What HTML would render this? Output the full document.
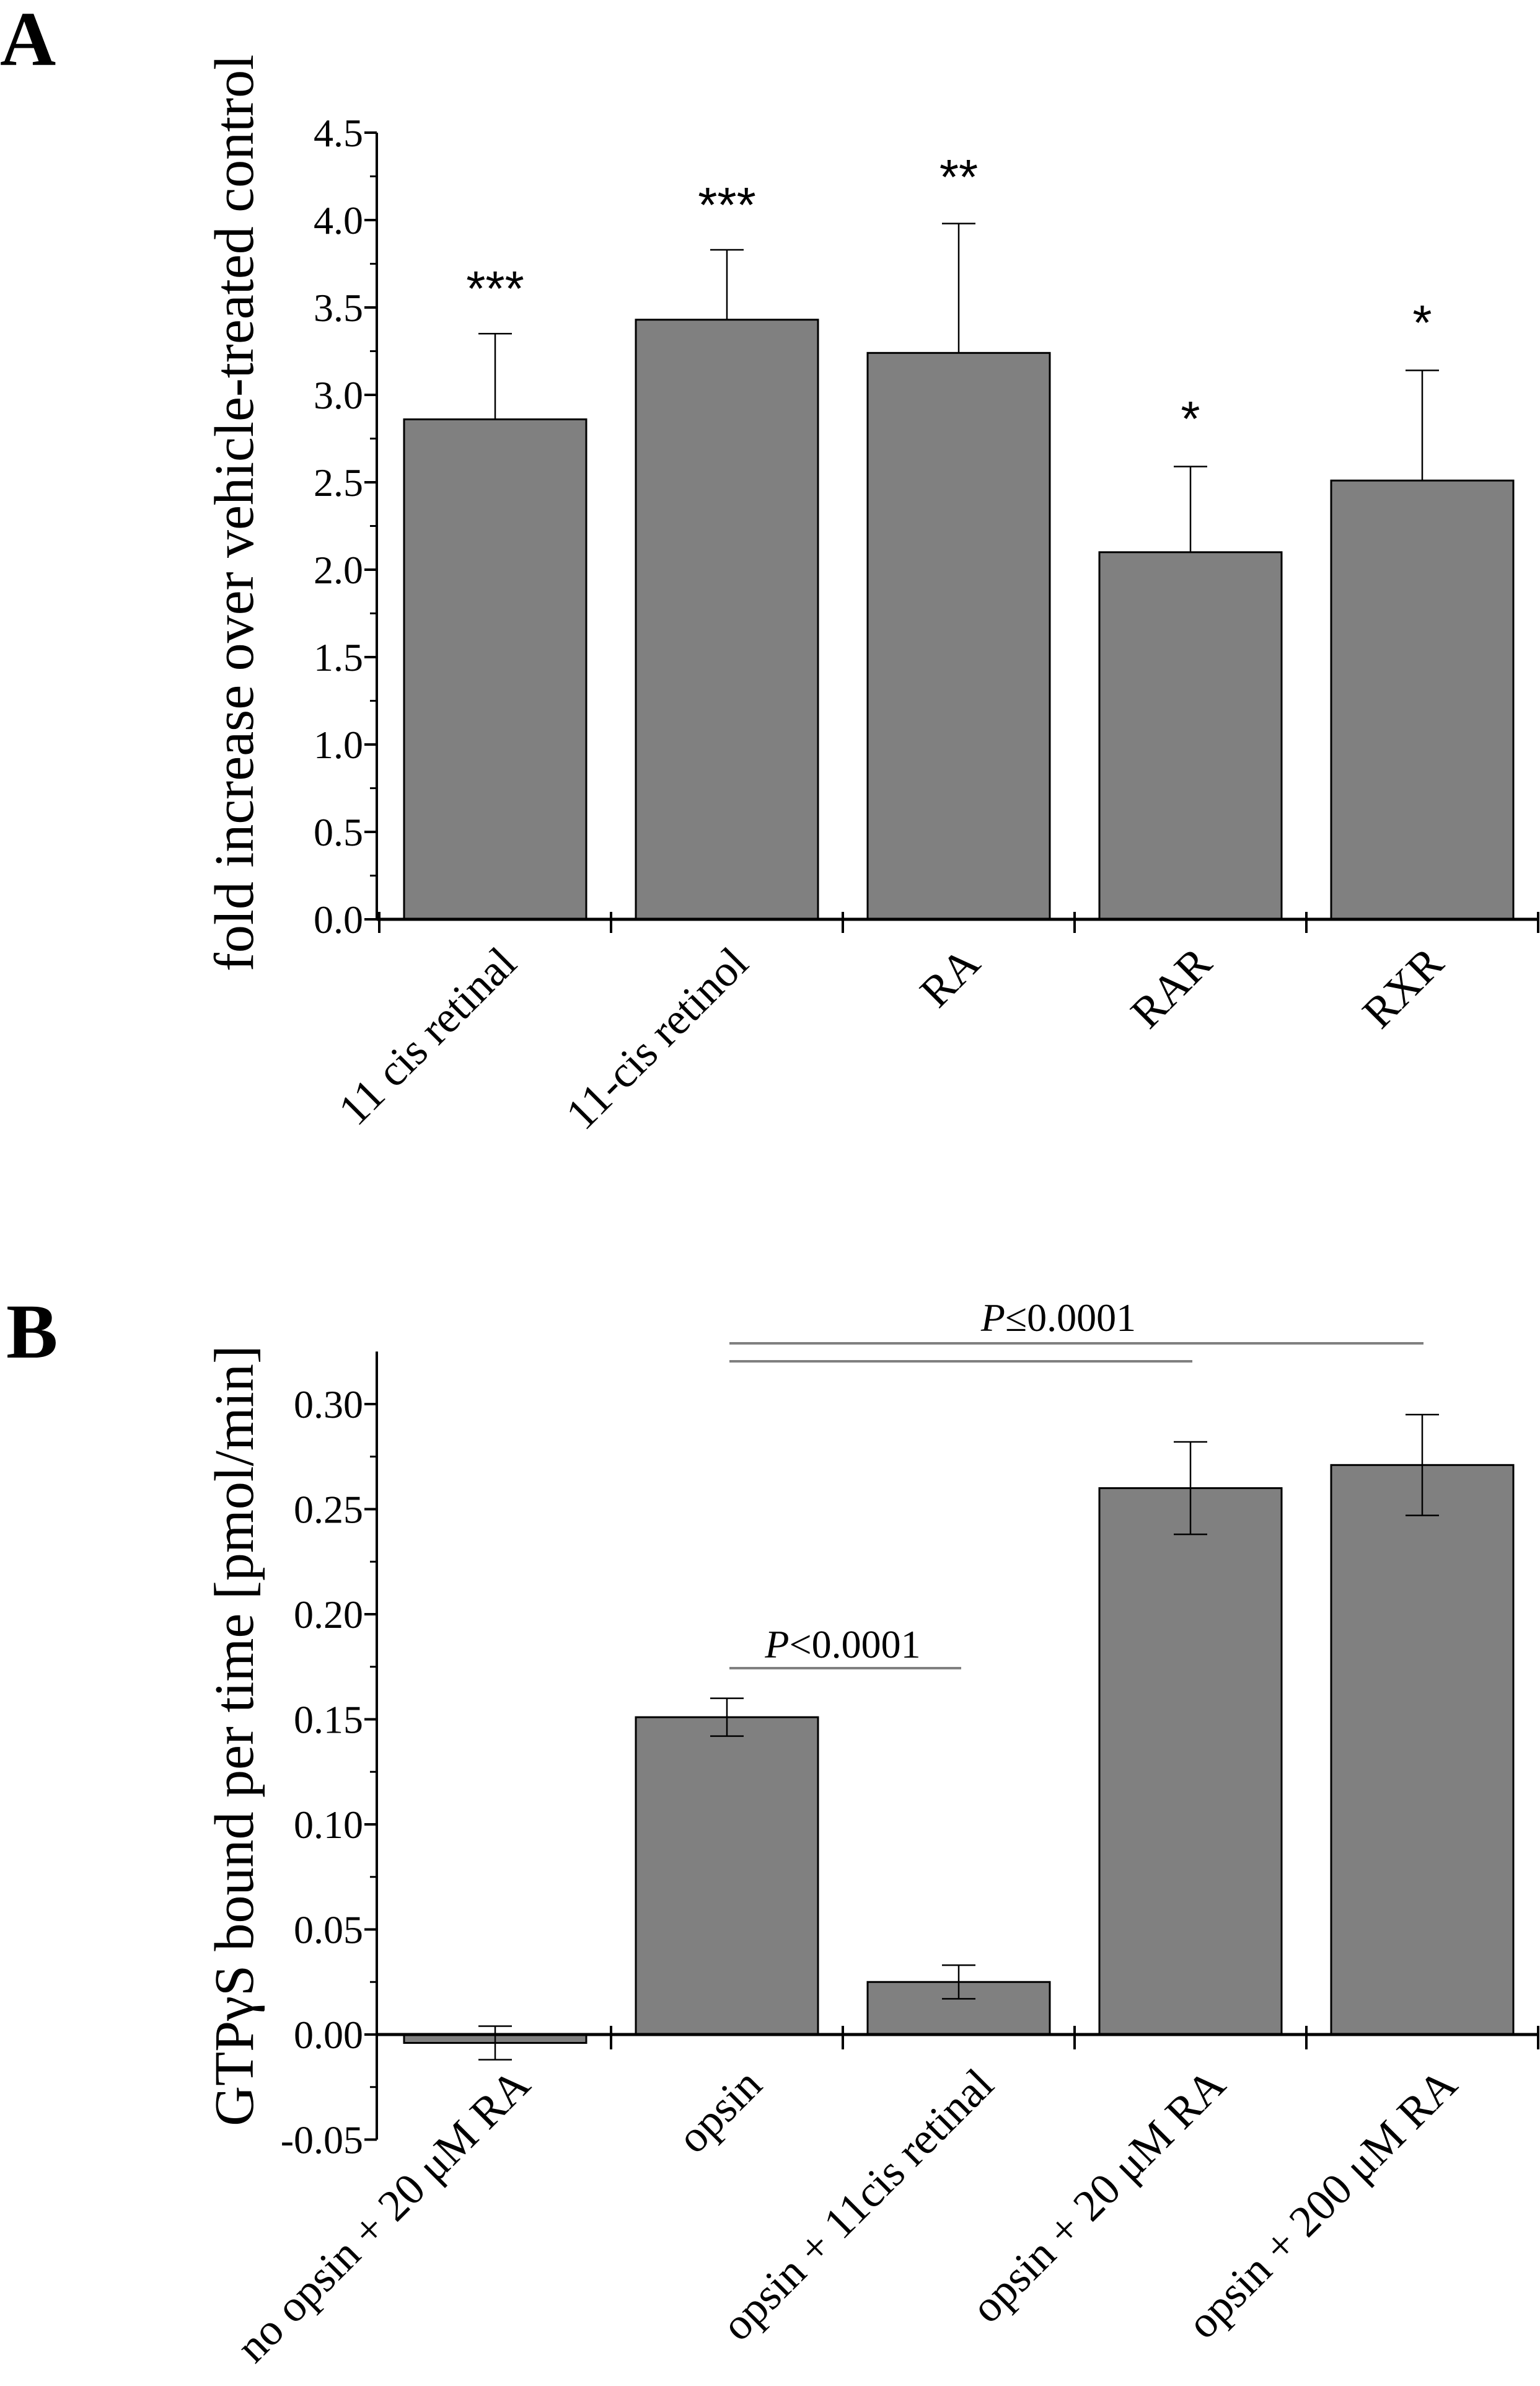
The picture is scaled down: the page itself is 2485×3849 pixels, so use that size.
<!DOCTYPE html>
<html><head><meta charset="utf-8"><style>
html,body{margin:0;padding:0;background:#fff;}
svg{display:block;font-family:"Liberation Serif",serif;}
</style></head><body>
<svg id="fig" width="2485" height="3849" viewBox="0 0 2485 3849" xmlns="http://www.w3.org/2000/svg">
<text x="0" y="105" font-size="125" font-weight="bold">A</text>
<text x="10" y="2190" font-size="125" font-weight="bold">B</text>
<g id="chartA"></g>
<g id="chartB"></g>
</svg>
<script>
const catsA = ["11 cis retinal","11-cis retinol","RA","RAR","RXR"];
const valsA = [2.86,3.43,3.24,2.10,2.51];
const errA = [0.49,0.40,0.74,0.49,0.63];
const starsA = ["***","***","**","*","*"];
const ticksA = ["0.0","0.5","1.0","1.5","2.0","2.5","3.0","3.5","4.0","4.5"];

const catsB = ["no opsin + 20 \u03BCM RA","opsin","opsin + 11cis retinal","opsin + 20 \u03BCM RA","opsin + 200 \u03BCM RA"];
const valsB = [-0.004,0.151,0.025,0.260,0.271];
const errB = [0.008,0.009,0.008,0.022,0.024];
const ticksB = ["-0.05","0.00","0.05","0.10","0.15","0.20","0.25","0.30"];

const NS="http://www.w3.org/2000/svg";
function mk(parent,tag,attrs,txt){const e=document.createElementNS(NS,tag);for(const k in attrs)e.setAttribute(k,attrs[k]);if(txt!==undefined)e.textContent=txt;parent.appendChild(e);return e;}

const X0=608, SLOT=374, BW=294;
function xc(i){return X0+SLOT*i+SLOT/2+4;}

// ---- Chart A
(function(){
const g=document.getElementById('chartA');
const Y0=1483, PU=282;
const ya=v=>Y0-v*PU;
let e;
catsA.forEach((c,i)=>{
 e=mk(g,'rect',{x:xc(i)-BW/2,y:ya(valsA[i]),width:BW,height:Y0-ya(valsA[i]),fill:'#808080',stroke:'#000','stroke-width':3});
 
 
 const top=ya(valsA[i]+errA[i]);
 e=mk(g,'path',{d:`M${xc(i)} ${ya(valsA[i])}V${top}M${xc(i)-27} ${top}H${xc(i)+27}`,stroke:'#000','stroke-width':2.5,fill:'none'});
 
 
 const sy=[445,310,265,655,500][i];
 e=mk(g,'text',{x:xc(i),y:sy+48,'font-family':'Liberation Sans, sans-serif','font-size':80,'text-anchor':'middle'},starsA[i]);
 
 
 e=mk(g,'text',{x:0,y:0,'font-size':72,'text-anchor':'end',transform:`translate(${xc(i)+38},${Y0+75}) rotate(-45)`},c);
 
 
});
e=mk(g,'line',{x1:X0,y1:ya(4.5),x2:X0,y2:Y0,stroke:'#000','stroke-width':4});


e=mk(g,'line',{x1:X0,y1:Y0,x2:2483,y2:Y0,stroke:'#000','stroke-width':5});


for(let k=0;k<=5;k++){e=mk(g,'line',{x1:X0+SLOT*k+4,y1:Y0-12,x2:X0+SLOT*k+4,y2:Y0+22,stroke:'#000','stroke-width':4});
 
 }
ticksA.forEach((t,i)=>{const v=parseFloat(t);
 mk(g,'line',{x1:X0-20,y1:ya(v),x2:X0,y2:ya(v),stroke:'#000','stroke-width':4});
 if(i<ticksA.length-1) mk(g,'line',{x1:X0-11,y1:ya(v+0.25),x2:X0,y2:ya(v+0.25),stroke:'#000','stroke-width':3});
 e=mk(g,'text',{x:X0-22,y:ya(v)+22,'font-size':64,'text-anchor':'end'},t);
 
 
});
e=mk(g,'text',{x:0,y:0,'font-size':90,'text-anchor':'middle',transform:`translate(408,${(75+1580)/2}) rotate(-90)`},"fold increase over vehicle-treated control");


})();

// ---- Chart B
(function(){
const g=document.getElementById('chartB');
const Y0=3282, PU=3390;
const yb=v=>Y0-v*PU;
let e;
catsB.forEach((c,i)=>{
 const v=valsB[i], t=Math.min(yb(v),Y0), h=Math.abs(yb(v)-Y0);
 e=mk(g,'rect',{x:xc(i)-BW/2,y:t,width:BW,height:h,fill:'#808080',stroke:'#000','stroke-width':3});
 
 
 const a=yb(v+errB[i]), b=yb(v-errB[i]);
 e=mk(g,'path',{d:`M${xc(i)} ${a}V${b}M${xc(i)-27} ${a}H${xc(i)+27}M${xc(i)-27} ${b}H${xc(i)+27}`,stroke:'#000','stroke-width':2.5,fill:'none'});
 
 
 e=mk(g,'text',{x:0,y:0,'font-size':72,'text-anchor':'end',transform:`translate(${xc(i)+60},${Y0+85}) rotate(-45)`},c);
 
 
});
e=mk(g,'line',{x1:X0,y1:yb(0.325),x2:X0,y2:yb(-0.05),stroke:'#000','stroke-width':4});


e=mk(g,'line',{x1:X0,y1:Y0,x2:2483,y2:Y0,stroke:'#000','stroke-width':5});


for(let k=1;k<=5;k++){e=mk(g,'line',{x1:X0+SLOT*k+4,y1:Y0-14,x2:X0+SLOT*k+4,y2:Y0+24,stroke:'#000','stroke-width':4});
 
 }
ticksB.forEach((t,i)=>{const v=parseFloat(t);
 mk(g,'line',{x1:X0-20,y1:yb(v),x2:X0,y2:yb(v),stroke:'#000','stroke-width':4});
 if(i<ticksB.length-1) mk(g,'line',{x1:X0-11,y1:yb(v+0.025),x2:X0,y2:yb(v+0.025),stroke:'#000','stroke-width':3});
 e=mk(g,'text',{x:X0-22,y:yb(v)+22,'font-size':64,'text-anchor':'end'},t);
 
 
});
mk(g,'line',{x1:1177,y1:2167,x2:2297,y2:2167,stroke:'#808080','stroke-width':4});
mk(g,'line',{x1:1177,y1:2196,x2:1924,y2:2196,stroke:'#808080','stroke-width':4});
mk(g,'line',{x1:1177,y1:2691,x2:1551,y2:2691,stroke:'#808080','stroke-width':4});
e=mk(g,'text',{x:1708,y:2147,'font-size':64,'text-anchor':'middle'});


mk(e,'tspan',{'font-style':'italic'},'P');mk(e,'tspan',{},'\u22640.0001');
e=mk(g,'text',{x:1360,y:2674,'font-size':64,'text-anchor':'middle'});


mk(e,'tspan',{'font-style':'italic'},'P');mk(e,'tspan',{},'<0.0001');
e=mk(g,'text',{x:0,y:0,'font-size':90,'text-anchor':'middle',transform:`translate(408,2800) rotate(-90)`},"GTP\u03B3S bound per time [pmol/min]");


})();
</script>
</body></html>
